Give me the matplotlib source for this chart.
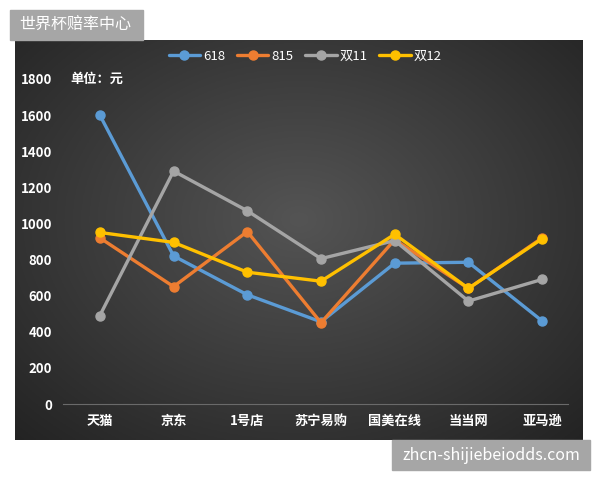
import numpy as np
import matplotlib
matplotlib.use("Agg")
import matplotlib.pyplot as plt
from matplotlib.patches import Rectangle

plt.rcParams['font.family'] = ['Noto Sans CJK SC', 'DejaVu Sans']

categories = ['天猫', '京东', '1号店', '苏宁易购', '国美在线', '当当网', '亚马逊']
series_names = ['618', '815', '双11', '双12']
s618 = [1600, 820, 605, 455, 780, 785, 460]
s815 = [920, 650, 955, 450, 910, 640, 920]
s1111 = [490, 1290, 1070, 805, 905, 570, 690]
s1212 = [950, 895, 730, 680, 940, 640, 915]
yticks = [0, 200, 400, 600, 800, 1000, 1200, 1400, 1600, 1800]

colors = ['#5B9BD5', '#ED7D31', '#A5A5A5', '#FFC000']

W, H = 600, 480
fig = plt.figure(figsize=(6, 4.8), dpi=100)
fig.patch.set_facecolor('white')


def fx(px):
    return px / W


def fy(py):
    return 1 - py / H


# dark panel with radial gradient
bg = fig.add_axes([fx(15), fy(440), fx(583 - 15), (440 - 40) / H])
yy, xx = np.mgrid[0:1:200j, 0:1:300j]
r = np.sqrt(((xx - 0.5) / 0.75) ** 2 + ((yy - 0.45) / 0.8) ** 2)
shade = np.clip(0.33 - 0.2 * r, 0.13, 0.33)
bg.imshow(np.dstack([shade, shade, shade]), aspect='auto', extent=[0, 1, 0, 1])
bg.set_axis_off()

# plot area
ax = fig.add_axes([fx(63), fy(404), fx(579 - 63), (404 - 79) / H])
ax.patch.set_alpha(0)
x = np.arange(len(categories))
for name, vals, c in zip(series_names, [s618, s815, s1111, s1212], colors):
    ax.plot(x, vals, color=c, lw=2.4, marker='o', ms=6.5, label=name,
            clip_on=False, solid_capstyle='round')

ax.set_xlim(-0.5, len(categories) - 0.5)
ax.set_ylim(0, 1800)
ax.set_yticks(yticks)
ax.set_xticks(x)
ax.set_xticklabels(categories)
for s in ['top', 'right', 'left']:
    ax.spines[s].set_visible(False)
ax.spines['bottom'].set_color('#6a6a6a')
ax.spines['bottom'].set_linewidth(0.8)
ax.spines['bottom'].set_bounds(-0.5, 6.35)
ax.tick_params(axis='both', length=0, colors='white', labelsize=9.5)
ax.tick_params(axis='y', pad=8)
ax.tick_params(axis='x', pad=7)
for lab in ax.get_xticklabels() + ax.get_yticklabels():
    lab.set_fontweight('bold')

fig.text(fx(70), fy(79), '单位：元', color='white', fontsize=9.5,
         fontweight='bold', va='center', ha='left')

leg = ax.legend(loc='center', bbox_to_anchor=(0.469, (404 - 56) / (404 - 79)),
                ncol=4, frameon=False, fontsize=9.5, handlelength=2.4,
                columnspacing=0.9, handletextpad=0.2)
for t in leg.get_texts():
    t.set_color('white')

# title box
fig.patches.append(Rectangle((fx(10), fy(40)), fx(133), 30 / H,
                             transform=fig.transFigure, color='#a6a6a6'))
fig.text(fx(19), fy(25), '世界杯赔率中心', color='white', fontsize=11.5,
         va='center', ha='left')

# watermark box
fig.patches.append(Rectangle((fx(392), fy(470)), fx(198), 30 / H,
                             transform=fig.transFigure, color='#a6a6a6'))
fig.text(fx(491), fy(455), 'zhcn-shijiebeiodds.com', color='white',
         fontsize=11.5, va='center', ha='center')

plt.savefig('out.png', dpi=100)
